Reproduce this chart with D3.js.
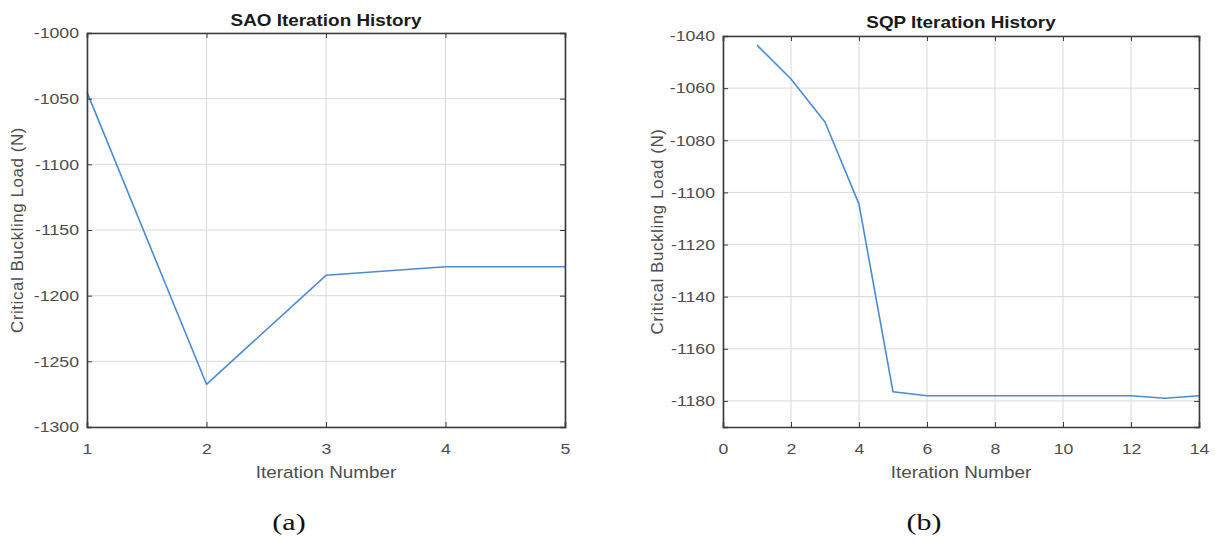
<!DOCTYPE html>
<html>
<head>
<meta charset="utf-8">
<script src="https://cdn.jsdelivr.net/npm/d3@7"></script>
<style>
  body { margin: 0; background: #fff; }
  svg { display: block; }
  .tick text { font-family: "Liberation Sans", Arial, sans-serif; font-size: 15px; fill: #4d4d4d; }
</style>
</head>
<body>
<svg id="chart" width="1215" height="541"></svg>
<script>
// SAO optimisation history
const saoIterations = [1, 2, 3, 4, 5];
const saoLoads = [-1045, -1267.5, -1184.5, -1178, -1178];
const saoXTicks = [1, 2, 3, 4, 5];
const saoYTicks = [-1300, -1250, -1200, -1150, -1100, -1050, -1000];

// SQP optimisation history
const sqpIterations = [1, 2, 3, 4, 5, 6, 7, 8, 9, 10, 11, 12, 13, 14];
const sqpLoads = [-1043.5, -1056.5, -1073, -1104.5, -1176.5, -1178, -1178, -1178, -1178, -1178, -1178, -1178, -1179, -1178];
const sqpXTicks = [0, 2, 4, 6, 8, 10, 12, 14];
const sqpYTicks = [-1180, -1160, -1140, -1120, -1100, -1080, -1060, -1040];

const svg = d3.select("#chart");
const lineColor = "#4a8bd5";
const boxColor = "#3a3a3a";
const gridColor = "#dadada";
const sans = "'Liberation Sans', Arial, sans-serif";
const widen = 1.18; // horizontal glyph widening used for all sans-serif labels

function panel(opts) {
  const { left, top, width, height, xDomain, yDomain, xTicks, yTicks, xs, ys, title } = opts;
  const g = svg.append("g").attr("transform", `translate(${left},${top})`);
  const x = d3.scaleLinear().domain(xDomain).range([0, width]);
  const y = d3.scaleLinear().domain(yDomain).range([height, 0]);

  // grid
  g.append("g").selectAll("line").data(xTicks).join("line")
    .attr("x1", d => x(d)).attr("x2", d => x(d))
    .attr("y1", 0).attr("y2", height)
    .attr("stroke", gridColor).attr("stroke-width", 1);
  g.append("g").selectAll("line").data(yTicks).join("line")
    .attr("y1", d => y(d)).attr("y2", d => y(d))
    .attr("x1", 0).attr("x2", width)
    .attr("stroke", gridColor).attr("stroke-width", 1);

  // data line
  const pts = xs.map((v, i) => [v, ys[i]]);
  g.append("path").datum(pts)
    .attr("fill", "none").attr("stroke", lineColor).attr("stroke-width", 1.6)
    .attr("stroke-linejoin", "round")
    .attr("d", d3.line().x(d => x(d[0])).y(d => y(d[1])));

  // axes (ticks pointing inward, boxed)
  const tickLen = 5;
  const xAxis = g.append("g").attr("transform", `translate(0,${height})`)
    .call(d3.axisBottom(x).tickValues(xTicks).tickSize(-tickLen).tickPadding(16).tickFormat(d3.format("d")));
  xAxis.selectAll(".tick text").attr("transform", `scale(${widen},1)`);
  const yAxis = g.append("g")
    .call(d3.axisLeft(y).tickValues(yTicks).tickSize(-tickLen).tickFormat(d => String(d)));
  yAxis.selectAll(".tick text").attr("x", null)
    .attr("transform", `translate(-8,0) scale(${widen},1)`);
  const xTop = g.append("g")
    .call(d3.axisTop(x).tickValues(xTicks).tickSize(-tickLen).tickFormat(""));
  const yRight = g.append("g").attr("transform", `translate(${width},0)`)
    .call(d3.axisRight(y).tickValues(yTicks).tickSize(-tickLen).tickFormat(""));
  [xAxis, yAxis, xTop, yRight].forEach(a => {
    a.select(".domain").attr("stroke", boxColor).attr("stroke-width", 1.6);
    a.selectAll(".tick line").attr("stroke", boxColor).attr("stroke-width", 1);
  });

  // title and axis labels
  g.append("text").attr("transform", `translate(${width / 2},${opts.titleY}) scale(${widen},1)`)
    .attr("text-anchor", "middle").attr("font-family", sans)
    .attr("font-weight", "bold").attr("font-size", 16).attr("fill", "#1a1a1a")
    .text(title);
  g.append("text").attr("transform", `translate(${width / 2},${height + 51}) scale(${widen},1)`)
    .attr("text-anchor", "middle").attr("font-family", sans)
    .attr("font-size", 16).attr("fill", "#4d4d4d")
    .text("Iteration Number");
  g.append("text")
    .attr("transform", `translate(${opts.yLabelX},${height / 2}) rotate(-90)`)
    .attr("text-anchor", "middle").attr("font-family", sans)
    .attr("font-size", 17).attr("letter-spacing", 0.55).attr("fill", "#4d4d4d")
    .text("Critical Buckling Load (N)");
}

panel({
  left: 87, top: 33, width: 478, height: 394,
  xDomain: [1, 5], yDomain: [-1300, -1000],
  xTicks: saoXTicks, yTicks: saoYTicks,
  xs: saoIterations, ys: saoLoads,
  title: "SAO Iteration History", titleY: -7, yLabelX: -64
});

panel({
  left: 723, top: 36, width: 476, height: 391,
  xDomain: [0, 14], yDomain: [-1190, -1040],
  xTicks: sqpXTicks, yTicks: sqpYTicks,
  xs: sqpIterations, ys: sqpLoads,
  title: "SQP Iteration History", titleY: -8, yLabelX: -60
});

// sub-figure captions
const captions = [{ text: "(a)", cx: 289 }, { text: "(b)", cx: 924 }];
svg.selectAll("text.caption").data(captions).join("text")
  .attr("class", "caption")
  .attr("transform", d => `translate(${d.cx},530) scale(1.25,1)`)
  .attr("text-anchor", "middle")
  .attr("font-family", "'Liberation Serif', 'DejaVu Serif', serif")
  .attr("font-size", 24).attr("fill", "#111")
  .text(d => d.text);
</script>
</body>
</html>
